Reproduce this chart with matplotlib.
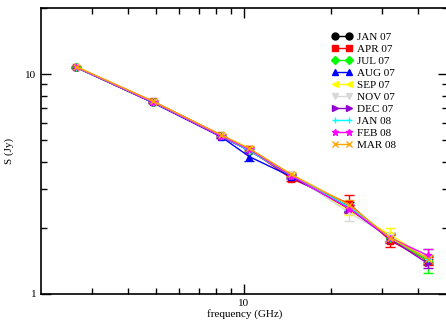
import matplotlib
matplotlib.use("Agg")
import matplotlib.pyplot as plt
from matplotlib.lines import Line2D
from matplotlib.ticker import LogLocator, NullFormatter, FixedLocator, FixedFormatter

plt.rcParams["font.family"] = ["Liberation Serif", "DejaVu Serif"]

# frequencies (GHz)
freq = [2.64, 4.85, 8.35, 10.45, 14.6, 23.05, 32.0, 43.0]

labels = ["JAN 07", "APR 07", "JUL 07", "AUG 07", "SEP 07",
          "NOV 07", "DEC 07", "JAN 08", "FEB 08", "MAR 08"]

jan07 = [10.80, 7.50, 5.25, 4.50, 3.45, 2.50, 1.80, 1.43]
apr07 = [10.80, 7.55, 5.30, 4.55, 3.35, 2.58, 1.75, 1.42]
jul07 = [10.75, 7.45, 5.25, 4.50, 3.45, 2.45, 1.80, 1.42]
aug07 = [10.80, 7.45, 5.20, 4.22, 3.42, 2.45, 1.82, 1.45]
sep07 = [10.85, 7.50, 5.30, 4.55, 3.50, 2.40, 1.86, 1.45]
nov07 = [10.80, 7.50, 5.25, 4.50, 3.50, 2.35, 1.82, 1.45]
dec07 = [10.75, 7.45, 5.20, 4.50, 3.45, 2.45, 1.78, 1.38]
jan08 = [10.80, 7.50, 5.25, 4.50, 3.45, 2.50, 1.80, 1.45]
feb08 = [10.80, 7.50, 5.25, 4.55, 3.45, 2.45, 1.80, 1.50]
mar08 = [10.85, 7.55, 5.30, 4.60, 3.50, 2.55, 1.80, 1.45]

err_jan07 = [0.05, 0.05, 0.05, 0.08, 0.06, 0.12, 0.08, 0.06]
err_apr07 = [0.05, 0.06, 0.06, 0.10, 0.08, 0.25, 0.12, 0.06]
err_jul07 = [0.05, 0.05, 0.05, 0.08, 0.06, 0.10, 0.08, 0.18]
err_aug07 = [0.05, 0.05, 0.05, 0.18, 0.06, 0.10, 0.08, 0.06]
err_sep07 = [0.05, 0.05, 0.05, 0.08, 0.06, 0.12, 0.14, 0.06]
err_nov07 = [0.05, 0.05, 0.05, 0.08, 0.06, 0.20, 0.08, 0.06]
err_dec07 = [0.05, 0.05, 0.05, 0.08, 0.06, 0.10, 0.08, 0.06]
err_jan08 = [0.05, 0.05, 0.05, 0.08, 0.06, 0.10, 0.08, 0.06]
err_feb08 = [0.05, 0.05, 0.05, 0.08, 0.06, 0.10, 0.08, 0.10]
err_mar08 = [0.05, 0.06, 0.06, 0.10, 0.10, 0.12, 0.08, 0.06]

series = [jan07, apr07, jul07, aug07, sep07, nov07, dec07, jan08, feb08, mar08]
errors = [err_jan07, err_apr07, err_jul07, err_aug07, err_sep07,
          err_nov07, err_dec07, err_jan08, err_feb08, err_mar08]
colors = ["black", "red", "#00ff00", "blue", "yellow", "#d8d8d8",
          "#9400d3", "cyan", "magenta", "orange"]
markers = ["o", "s", "D", "^", "<", "v", ">", "+", "*", "x"]

fig = plt.figure(figsize=(4.46, 3.24), dpi=100)
ax = fig.add_axes([0.092, 0.0926, 0.912, 0.882])

handles = []
for y, e, c, m, lab in zip(series, errors, colors, markers, labels):
    ms = 4 if m in ("D", "s") else 5
    ax.errorbar(freq, y, yerr=e, color=c, marker=m, markersize=ms, lw=1.0,
                elinewidth=1.0, capsize=3.5, capthick=1.0,
                markeredgewidth=1.0)
    handles.append(Line2D([], [], color=c, marker=m, markersize=ms, lw=1.0,
                          markeredgewidth=1.0, label=lab))

ax.set_xscale("log")
ax.set_yscale("log")
ax.set_xlim(2.0, 50.5)
ax.set_ylim(1.0, 20.0)

ax.xaxis.set_major_locator(FixedLocator([10]))
ax.xaxis.set_major_formatter(FixedFormatter(["10"]))
ax.xaxis.set_minor_locator(FixedLocator([3, 4, 5, 6, 7, 8, 9, 20, 30, 40]))
ax.xaxis.set_minor_formatter(NullFormatter())
ax.yaxis.set_major_locator(FixedLocator([1, 10]))
ax.yaxis.set_major_formatter(FixedFormatter(["1", "10"]))
ax.yaxis.set_minor_locator(LogLocator(base=10, subs=range(2, 10)))
ax.yaxis.set_minor_formatter(NullFormatter())

ax.tick_params(which="both", direction="in", top=True, right=True,
               labelsize=8, width=1.0)
ax.tick_params(which="major", length=7)
ax.tick_params(which="minor", length=4)
for s in ax.spines.values():
    s.set_linewidth(1.2)

ax.set_xlabel("frequency (GHz)", fontsize=8, labelpad=1)
ax.set_ylabel("S (Jy)", fontsize=8, labelpad=8)

ax.legend(handles=handles, loc="upper left", bbox_to_anchor=(0.695, 0.945),
          frameon=False, fontsize=8, numpoints=2, handlelength=1.9,
          handletextpad=0.35, labelspacing=0.2, borderpad=0.2)

fig.savefig("out.png", dpi=100)
